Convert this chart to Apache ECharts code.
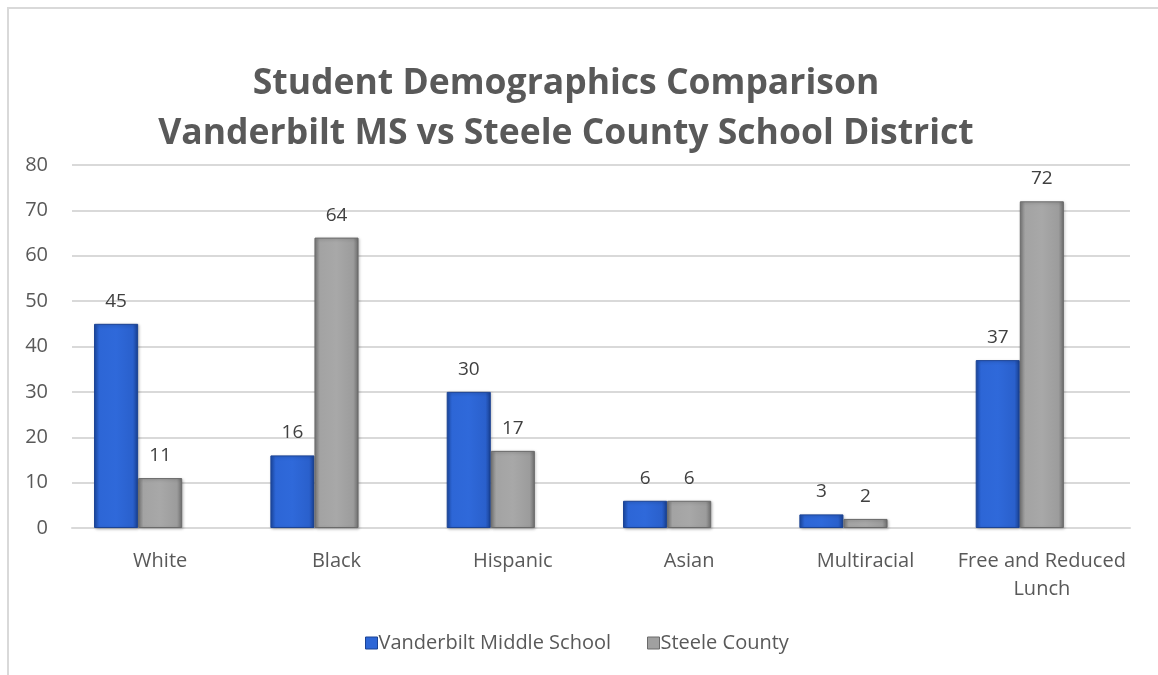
<!DOCTYPE html>
<html>
<head>
<meta charset="utf-8">
<script src="https://cdn.jsdelivr.net/npm/echarts@6/dist/echarts.min.js"></script>
<style>
html,body{margin:0;padding:0;background:#fff;width:1158px;height:675px;overflow:hidden;}
#frame{position:absolute;left:7px;top:7px;width:1160px;height:680px;border-left:2px solid #d9d9d9;border-top:2px solid #d9d9d9;}
#chart{position:absolute;left:0;top:0;width:1158px;height:675px;}
</style>
</head>
<body>
<div id="frame"></div>
<div id="chart"></div>
<script>
const categories = ["White","Black","Hispanic","Asian","Multiracial","Free and Reduced\nLunch"];
const vanderbilt = [45,16,30,6,3,37];
const steele = [11,64,17,6,2,72];
const emptySeries = [];
const seriesNames = ["Vanderbilt Middle School","Steele County"];
const titleLines = ["Student Demographics Comparison","Vanderbilt MS vs Steele County School District"];

const font = "'Open Sans', 'Noto Sans', sans-serif";
const blueGrad = new echarts.graphic.LinearGradient(0,0,1,0,[
  {offset:0,color:'#1c4aa6'},{offset:0.12,color:'#2d66d6'},{offset:0.5,color:'#2f69da'},{offset:0.88,color:'#2a60cc'},{offset:1,color:'#183f90'}]);
const grayGrad = new echarts.graphic.LinearGradient(0,0,1,0,[
  {offset:0,color:'#7a7a7a'},{offset:0.12,color:'#a3a3a3'},{offset:0.5,color:'#a8a8a8'},{offset:0.88,color:'#9c9c9c'},{offset:1,color:'#6e6e6e'}]);

const labelCommon = {show:true,position:'top',distance:13,fontFamily:font,fontSize:19,color:'#404040'};
const chart = echarts.init(document.getElementById('chart'), null, {renderer:'canvas'});
chart.setOption({
  animation:false,
  backgroundColor:'transparent',
  title:{
    text: titleLines.join('\n'),
    left: 561, textAlign:'center', top:54,
    textStyle:{fontFamily:font,fontSize:35.5,fontWeight:'bold',color:'#595959',lineHeight:50}
  },
  legend:{
    top:628, left:360,
    itemWidth:12, itemHeight:12, itemGap:36,
    textStyle:{fontFamily:font,fontSize:20,color:'#595959',padding:[0,0,0,-4]},
    data:[{name:seriesNames[0],icon:'rect',itemStyle:{color:'#2d66d6',borderColor:'#1b4394',borderWidth:1}},{name:seriesNames[1],icon:'rect',itemStyle:{color:'#a0a0a0',borderColor:'#6a6a6a',borderWidth:1}}]
  },
  grid:{left:72,right:28,top:165,bottom:147},
  xAxis:{
    type:'category', data:categories,
    axisLine:{lineStyle:{color:'#d9d9d9',width:2}},
    axisTick:{show:false},
    axisLabel:{interval:0,fontFamily:font,fontSize:20,color:'#595959',margin:19,lineHeight:28}
  },
  yAxis:{
    type:'value', min:0, max:80, interval:10,
    axisLine:{show:false}, axisTick:{show:false},
    axisLabel:{fontFamily:font,fontSize:20,color:'#595959',margin:24},
    splitLine:{lineStyle:{color:'#d9d9d9',width:2}}
  },
  series:[
    {name:seriesNames[0],type:'bar',data:vanderbilt,barGap:'0%',barCategoryGap:'25%',
     itemStyle:{color:blueGrad,borderColor:'#1b4394',borderWidth:1,shadowColor:'rgba(0,0,0,0.25)',shadowBlur:3,shadowOffsetX:1,shadowOffsetY:1},
     label:labelCommon},
    {name:seriesNames[1],type:'bar',data:steele,
     itemStyle:{color:grayGrad,borderColor:'#6a6a6a',borderWidth:1,shadowColor:'rgba(0,0,0,0.25)',shadowBlur:3,shadowOffsetX:1,shadowOffsetY:1},
     label:labelCommon},
    {name:'_spacer',type:'bar',data:emptySeries,silent:true}
  ]
});
</script>
</body>
</html>
